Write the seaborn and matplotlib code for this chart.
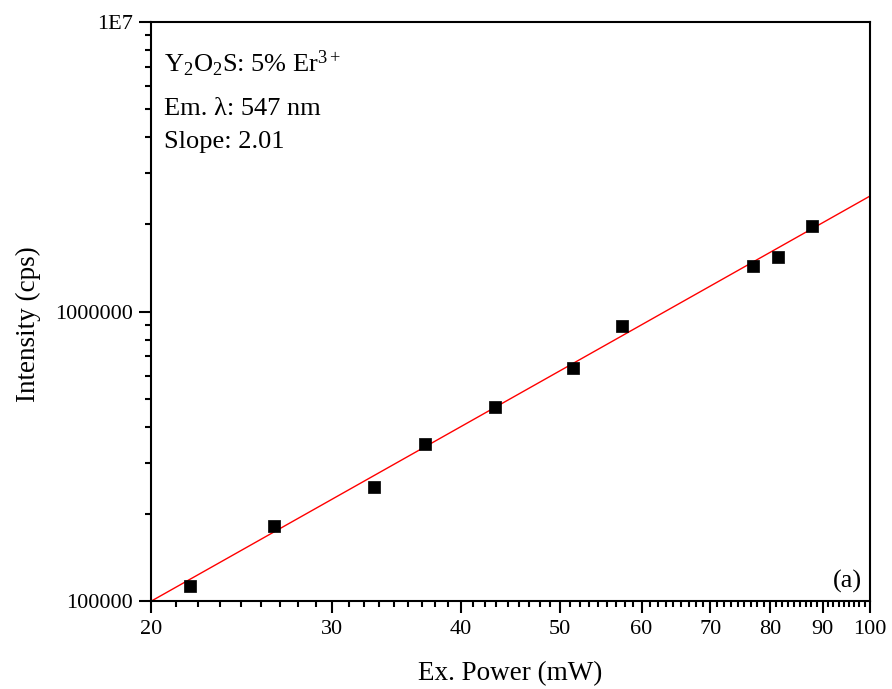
import numpy as np
import pandas as pd
import seaborn as sns
import matplotlib
matplotlib.use("Agg")
import matplotlib.pyplot as plt
from matplotlib.ticker import FixedLocator, NullFormatter, LogLocator

power_mw = [21.8, 26.3, 32.9, 36.9, 43.2, 51.4, 57.4, 77.1, 81.4, 88.0]
intensity_cps = [1.13e5, 1.82e5, 2.47e5, 3.50e5, 4.69e5, 6.38e5, 8.91e5, 1.436e6, 1.547e6, 1.974e6]
fit_slope = 2.0
fit_intercept = 2.398  # log10 intercept
fit_range = [20, 100]
x_major = [20, 30, 40, 50, 60, 70, 80, 90, 100]
y_major = [1e5, 1e6, 1e7]
y_labels = ["100000", "1000000", "1E7"]
annot_lines = [r"Y$_2$O$_2$S: 5% Er$^{3+}$", "Em. λ: 547 nm", "Slope: 2.01"]
annot_y = [0.9137, 0.8394, 0.7824]

sns.set_theme(style="white")
plt.rcParams['font.family'] = ['Liberation Serif', 'DejaVu Serif']
plt.rcParams['mathtext.fontset'] = 'custom'
plt.rcParams['mathtext.rm'] = 'Liberation Serif'
plt.rcParams['mathtext.it'] = 'Liberation Serif:italic'
for key in ['text.color', 'axes.labelcolor', 'xtick.color', 'ytick.color', 'axes.edgecolor']:
    plt.rcParams[key] = 'black'

df = pd.DataFrame({"power": power_mw, "intensity": intensity_cps})
fx = np.linspace(fit_range[0], fit_range[1], 200)
fit_df = pd.DataFrame({"power": fx, "intensity": 10 ** (fit_intercept + fit_slope * np.log10(fx))})

fig = plt.figure(figsize=(8.92, 6.89), dpi=100)
ax = fig.add_axes([0.1698, 0.1277, 0.805, 0.8403])
ax.set_xscale("log")
ax.set_yscale("log")

sns.lineplot(data=fit_df, x="power", y="intensity", ax=ax, color="red", linewidth=1.0)
sns.scatterplot(data=df, x="power", y="intensity", ax=ax, marker="s", s=75,
                color="black", edgecolor="black", linewidth=0.5, zorder=3)

ax.set_xlim(20, 100)
ax.set_ylim(1e5, 1e7)

ax.xaxis.set_major_locator(FixedLocator(x_major))
ax.set_xticklabels([str(v) for v in x_major])
minors = []
for a, b in zip(x_major[:-1], x_major[1:]):
    for k in range(1, 9):
        minors.append(a + (b - a) * k / 9)
ax.xaxis.set_minor_locator(FixedLocator(minors))
ax.xaxis.set_minor_formatter(NullFormatter())

ax.yaxis.set_major_locator(FixedLocator(y_major))
ax.set_yticklabels(y_labels)
ax.yaxis.set_minor_locator(LogLocator(base=10, subs=np.arange(2, 10)))
ax.yaxis.set_minor_formatter(NullFormatter())

for sp in ax.spines.values():
    sp.set_visible(True)
    sp.set_color("black")
    sp.set_linewidth(1.5)

ax.tick_params(which="major", direction="out", length=8.5, width=1.5, labelsize=16,
               colors="black", bottom=True, left=True, top=False, right=False, pad=5)
ax.tick_params(which="minor", direction="out", length=4.5, width=1.5,
               bottom=True, left=True, top=False, right=False)

ax.set_xlabel("Ex. Power (mW)", fontsize=19.5, labelpad=16)
ax.set_ylabel("Intensity (cps)", fontsize=19.5)
ax.yaxis.set_label_coords(-0.154, 0.478)

for t, yy in zip(annot_lines, annot_y):
    ax.text(0.018, yy, t, transform=ax.transAxes, fontsize=19,
            va="baseline", ha="left")
ax.text(0.9895, 0.024, "(a)", transform=ax.transAxes, fontsize=19, ha="right", va="baseline")

fig.savefig("out.png", dpi=100)
